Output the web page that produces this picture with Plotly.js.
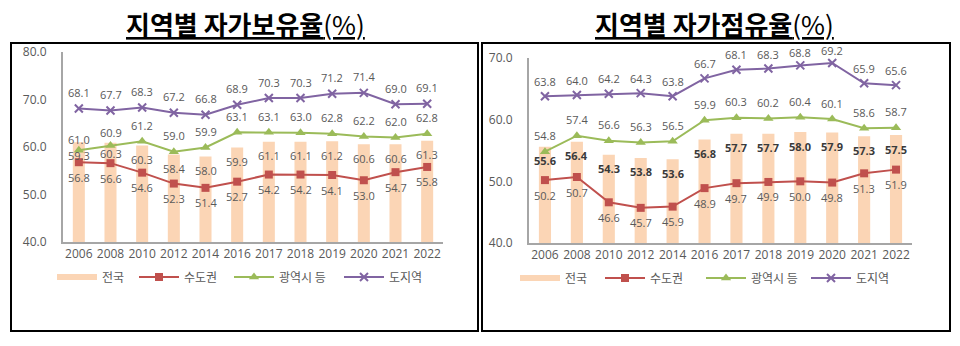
<!DOCTYPE html>
<html>
<head>
<meta charset="utf-8">
<script src="https://cdn.plot.ly/plotly-3.0.1.min.js"></script>
<style>
  html, body { margin: 0; padding: 0; background: #ffffff; }
  #chart { width: 960px; height: 346px; }
</style>
</head>
<body>
<div id="chart"></div>
<script>
// ---------- data ----------
const years = ['2006','2008','2010','2012','2014','2016','2017','2018','2019','2020','2021','2022'];
const seriesNames = ['전국', '수도권', '광역시 등', '도지역'];

// 자가보유율 (%)
const ownTotal    = [61.0, 60.9, 60.3, 58.4, 58.0, 59.9, 61.1, 61.1, 61.2, 60.6, 60.6, 61.3];
const ownCapital  = [56.8, 56.6, 54.6, 52.3, 51.4, 52.7, 54.2, 54.2, 54.1, 53.0, 54.7, 55.8];
const ownMetro    = [59.3, 60.3, 61.2, 59.0, 59.9, 63.1, 63.1, 63.0, 62.8, 62.2, 62.0, 62.8];
const ownProvince = [68.1, 67.7, 68.3, 67.2, 66.8, 68.9, 70.3, 70.3, 71.2, 71.4, 69.0, 69.1];

// 자가점유율 (%)
const occTotal    = [55.6, 56.4, 54.3, 53.8, 53.6, 56.8, 57.7, 57.7, 58.0, 57.9, 57.3, 57.5];
const occCapital  = [50.2, 50.7, 46.6, 45.7, 45.9, 48.9, 49.7, 49.9, 50.0, 49.8, 51.3, 51.9];
const occMetro    = [54.8, 57.4, 56.6, 56.3, 56.5, 59.9, 60.3, 60.2, 60.4, 60.1, 58.6, 58.7];
const occProvince = [63.8, 64.0, 64.2, 64.3, 63.8, 66.7, 68.1, 68.3, 68.8, 69.2, 65.9, 65.6];

const titleLeft  = '지역별 자가보유율';
const titleRight = '지역별 자가점유율';

// ---------- styles ----------
const C_BAR = '#FBD5B5', C_RED = '#C0504D', C_GREEN = '#9BBB59', C_PURPLE = '#8064A2';
const C_TEXT = '#595959', C_AXIS = '#A6A6A6';
const NUMFONT = 'Open Sans, Noto Sans, sans-serif';
const KRFONT = 'Noto Sans CJK KR, Noto Sans, sans-serif';
const W = 960, H = 346;
const px = v => v / W, py = v => (H - v) / H;

// label vertical offsets (px) per point
const shiftTotalL = [3, 10, -14, -14, -14, -14, -14, -14, -14, -14, -14, -14];
const shiftMetroL = [-5, -8, 16, 16, 16, 16, 16, 16, 16, 16, 16, 16];
const shiftProvR  = [15, 15, 15, 15, 15, 15, 15, 14, 13, 12, 15, 15];

// legend entry positions (px, left edge of swatch area)
const legendXL = [52, 134, 229, 339];
const legendXR = [515, 600, 701, 806];

function lineTraces(cap, met, prov, xa, ya, lgs) {
  return [
    { type: 'scatter', mode: 'lines', x: [null], y: [null], xaxis: xa, yaxis: ya, legend: lgs[0],
      name: seriesNames[0], line: { color: C_BAR, width: 6 }, showlegend: true, hoverinfo: 'skip' },
    { type: 'scatter', mode: 'lines+markers', x: years, y: cap, xaxis: xa, yaxis: ya, legend: lgs[1],
      name: seriesNames[1], line: { color: C_RED, width: 2 },
      marker: { symbol: 'square', size: 8, color: C_RED }, showlegend: true },
    { type: 'scatter', mode: 'lines+markers', x: years, y: met, xaxis: xa, yaxis: ya, legend: lgs[2],
      name: seriesNames[2], line: { color: C_GREEN, width: 2 },
      marker: { symbol: 'triangle-up', size: 9, color: C_GREEN }, showlegend: true },
    { type: 'scatter', mode: 'lines+markers', x: years, y: prov, xaxis: xa, yaxis: ya, legend: lgs[3],
      name: seriesNames[3], line: { color: C_PURPLE, width: 2 },
      marker: { symbol: 'x-thin', size: 8, color: C_PURPLE, line: { color: C_PURPLE, width: 2 } }, showlegend: true }
  ];
}

const traces = [
  { type: 'bar', x: years, y: ownTotal, xaxis: 'x', yaxis: 'y', width: 0.38,
    marker: { color: C_BAR }, showlegend: false, hoverinfo: 'y' },
  ...lineTraces(ownCapital, ownMetro, ownProvince, 'x', 'y', ['legend', 'legend2', 'legend3', 'legend4']),
  { type: 'bar', x: years, y: occTotal, xaxis: 'x2', yaxis: 'y2', width: 0.38,
    marker: { color: C_BAR }, showlegend: false, hoverinfo: 'y' },
  ...lineTraces(occCapital, occMetro, occProvince, 'x2', 'y2', ['legend5', 'legend6', 'legend7', 'legend8'])
];

// ---------- data labels ----------
const annotations = [];
function addLabels(vals, xr, yr, shiftFn, bold, color) {
  vals.forEach((v, i) => {
    annotations.push({
      xref: xr, yref: yr, x: i, y: v, text: bold ? '<b>' + v.toFixed(1) + '</b>' : v.toFixed(1),
      showarrow: false, yshift: shiftFn(i), xanchor: 'center', yanchor: 'middle',
      font: { family: NUMFONT, size: 11, color: color || C_TEXT }
    });
  });
}
addLabels(ownProvince, 'x', 'y', () => 16);
addLabels(ownMetro, 'x', 'y', i => shiftMetroL[i]);
addLabels(ownTotal, 'x', 'y', i => shiftTotalL[i]);
addLabels(ownCapital, 'x', 'y', () => -15);

addLabels(occProvince, 'x2', 'y2', i => shiftProvR[i]);
addLabels(occMetro, 'x2', 'y2', () => 16);
addLabels(occTotal, 'x2', 'y2', () => -14, true, '#3a3a3a');
addLabels(occCapital, 'x2', 'y2', () => -15);

// titles
[[titleLeft, 246], [titleRight, 714]].forEach(([t, cx]) => {
  annotations.push({
    xref: 'paper', yref: 'paper', x: px(cx), y: py(23), xanchor: 'center', yanchor: 'middle',
    showarrow: false, text: '<u><b>' + t + '</b>(%)</u>',
    font: { family: KRFONT, size: 26, color: '#000000' }
  });
});

function xAxis(dom) {
  return {
    domain: dom, type: 'category', range: [-0.5, 11.5], showgrid: false, zeroline: false,
    showline: true, linecolor: C_AXIS, linewidth: 2, ticks: '', fixedrange: true,
    tickfont: { family: NUMFONT, size: 12, color: C_TEXT }
  };
}
function yAxis(dom, rng, anchor) {
  return {
    domain: dom, range: rng, dtick: 10, tickformat: '.1f', showgrid: false, zeroline: false,
    showline: true, linecolor: C_AXIS, linewidth: 2, ticks: '', anchor: anchor,
    ticklabelstandoff: 12, fixedrange: true,
    tickfont: { family: NUMFONT, size: 12, color: C_TEXT }
  };
}

function legendAt(xpx, ypx) {
  return {
    orientation: 'h', x: px(xpx), y: py(ypx), xanchor: 'left', yanchor: 'middle',
    font: { family: KRFONT, size: 12, color: C_TEXT }, bgcolor: 'rgba(0,0,0,0)', itemwidth: 40
  };
}

const layout = {
  width: W, height: H, margin: { l: 0, r: 0, t: 0, b: 0 },
  paper_bgcolor: '#ffffff', plot_bgcolor: 'rgba(0,0,0,0)',
  barmode: 'overlay', showlegend: true,
  xaxis: Object.assign(xAxis([px(63), px(443)]), { anchor: 'y' }),
  yaxis: yAxis([py(242), py(52)], [40, 80], 'x'),
  xaxis2: Object.assign(xAxis([px(529), px(912)]), { anchor: 'y2' }),
  yaxis2: yAxis([py(243), py(58)], [40, 70], 'x2'),
  annotations: annotations,
  shapes: [
    { type: 'rect', xref: 'paper', yref: 'paper', x0: px(11), x1: px(478), y0: py(331), y1: py(43),
      line: { color: '#000000', width: 2 } },
    { type: 'rect', xref: 'paper', yref: 'paper', x0: px(482), x1: px(950), y0: py(331), y1: py(43),
      line: { color: '#000000', width: 2 } }
  ]
};
legendXL.forEach((x, i) => { layout[i === 0 ? 'legend' : 'legend' + (i + 1)] = legendAt(x, 277); });
legendXR.forEach((x, i) => { layout['legend' + (i + 5)] = legendAt(x, 278); });

Plotly.newPlot('chart', traces, layout, { displayModeBar: false, staticPlot: true });
</script>
</body>
</html>
